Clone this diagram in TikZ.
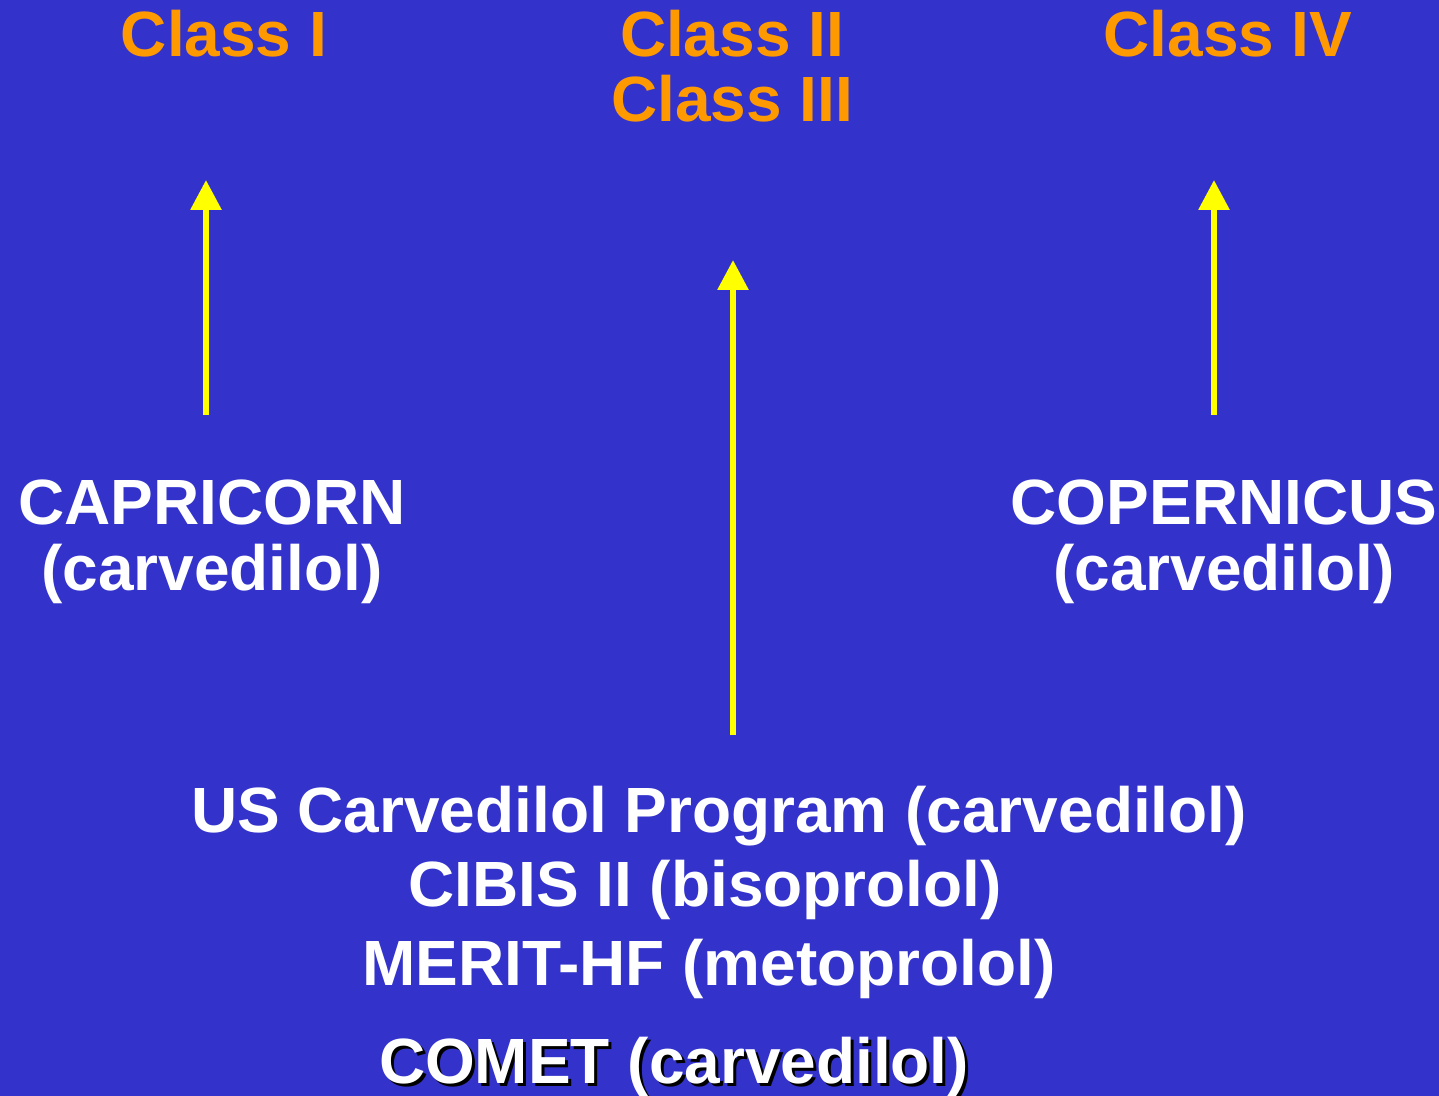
\documentclass[tikz,border=0pt]{standalone}
\usepackage{fontspec}
\setmainfont{Liberation Sans}
\usepackage{xcolor}
\usetikzlibrary{arrows.meta, positioning}
\definecolor{slideblue}{HTML}{3333CC}
\definecolor{classorange}{HTML}{FF9900}
\definecolor{arrowyellow}{HTML}{FFFF00}

\begin{document}
\begin{tikzpicture}[
    x=0.1mm, y=-0.1mm,
    heading/.style={text=classorange, font=\bfseries\fontsize{18.2}{18.6}\selectfont, align=center, anchor=base, inner sep=0pt},
    trial/.style={text=white, font=\bfseries\fontsize{18.2}{18.6}\selectfont, align=center, anchor=base, inner sep=0pt},
    arrow/.style={-{Triangle[width=3mm, length=3mm]}, line width=0.6mm, draw=arrowyellow}
]
    \fill[slideblue] (0,0) rectangle (1439,1096);
    \useasboundingbox (0,0) rectangle (1439,1096);

    \node [heading] (classI) at (224,57) {Class I};
    \node [heading] (classIIIII) at (732,122) {Class II\\Class III};
    \node [heading] (classIV) at (1228,57) {Class IV};

    \node [trial] (capricorn) at (212,590) {CAPRICORN\\(carvedilol)};
    \node [trial] (copernicus) at (1224,590) {COPERNICUS\\(carvedilol)};

    \node [trial] (uscp) at (719,832) {US Carvedilol Program (carvedilol)};
    \node [trial] (cibis) at (705,906) {CIBIS II (bisoprolol)};
    \node [trial] (merit) at (709,985) {MERIT-HF (metoprolol)};
    \node [trial, text=black] (cometshadow) at (677,1086) {COMET (carvedilol)};
    \node [trial] (comet) at (674,1083) {COMET (carvedilol)};

    % arrow ends
    \coordinate (leftfoot) at (206,415);
    \coordinate (lefttip) at (206,180);
    \coordinate (midfoot) at (733,735);
    \coordinate (midtip) at (733,260);
    \coordinate (rightfoot) at (1214,415);
    \coordinate (righttip) at (1214,180);

    \draw [arrow] (leftfoot) -- (lefttip);
    \draw [arrow] (midfoot) -- (midtip);
    \draw [arrow] (rightfoot) -- (righttip);
\end{tikzpicture}
\end{document}
